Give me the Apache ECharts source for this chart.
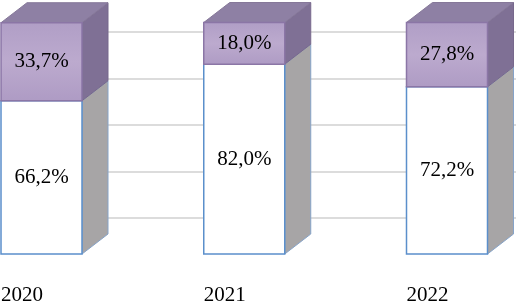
<!DOCTYPE html>
<html><head><meta charset="utf-8">
<script src="https://cdn.jsdelivr.net/npm/echarts@6/dist/echarts.min.js"></script>
<style>html,body{margin:0;padding:0;background:#fff}#c{width:516px;height:301px}</style>
</head><body><div id="c"></div>
<script>
const categories = ['2020', '2021', '2022'];
const lowerShare = [66.2, 82.0, 72.2];
const upperShare = [33.7, 18.0, 27.8];
const gridLevels = [0, 4];

const fmt = v => v.toFixed(1).replace('.', ',') + '%';
const DX = 26, DY = -20, HALF = 40.5;
const FONT = '21px "Liberation Serif", "Times New Roman", serif';

const lowerData = categories.map((c, i) => [i, 0, lowerShare[i]]);
const upperData = categories.map((c, i) => [i, lowerShare[i], lowerShare[i] + upperShare[i]]);

function makeRender(kind, values) {
  return function (params, api) {
    const i = api.value(0), lo = api.value(1), hi = api.value(2);
    const pLo = api.coord([i, lo]);
    const pHi = api.coord([i, hi]);
    const xl = pLo[0] - HALF, xr = pLo[0] + HALF, yb = pLo[1], yt = pHi[1];
    const ch = [];
    if (kind === 'lower') {
      ch.push({ type: 'polygon', shape: { points: [[xr, yb], [xr + DX, yb + DY], [xr + DX, yt + DY], [xr, yt]] },
        style: { fill: '#a7a5a6', stroke: '#86a3c8', lineWidth: 1 } });
      ch.push({ type: 'rect', shape: { x: xl, y: yt, width: xr - xl, height: yb - yt },
        style: { fill: '#ffffff', stroke: '#5b8fcb', lineWidth: 1.5 } });
    } else {
      ch.push({ type: 'polygon', shape: { points: [[xr, yb], [xr + DX, yb + DY], [xr + DX, yt + DY], [xr, yt]] },
        style: { fill: '#7f7095', stroke: '#77688c', lineWidth: 1 } });
      ch.push({ type: 'polygon', shape: { points: [[xl, yt], [xl + DX, yt + DY], [xr + DX, yt + DY], [xr, yt]] },
        style: { fill: '#8e80a4', stroke: '#867899', lineWidth: 1 } });
      ch.push({ type: 'rect', shape: { x: xl, y: yt, width: xr - xl, height: yb - yt },
        style: { fill: new echarts.graphic.LinearGradient(0, 0, 0, 1, [
          { offset: 0, color: '#b09ec6' }, { offset: 0.5, color: '#bcaace' }, { offset: 1, color: '#ae9bc4' }]),
          stroke: '#8b76a6', lineWidth: 1.5 } });
    }
    ch.push({ type: 'text', x: pLo[0], y: (yb + yt) / 2,
      style: { text: fmt(values[params.dataIndex]), fill: '#000', font: FONT, align: 'center', verticalAlign: 'middle' } });
    return { type: 'group', children: ch };
  };
}

const chart = echarts.init(document.getElementById('c'), null, { renderer: 'canvas' });
chart.setOption({
  animation: false,
  backgroundColor: '#ffffff',
  grid: [
    { left: 0, right: 0, top: 22.5, bottom: 47, containLabel: false, outerBoundsMode: 'none' },
    { left: 40, right: 0, top: 32, height: 186, containLabel: false, outerBoundsMode: 'none' }
  ],
  xAxis: [
    { type: 'value', gridIndex: 0, min: -0.20469, max: 2.34032,
      axisLine: { show: false }, axisTick: { show: false }, splitLine: { show: false },
      axisLabel: { customValues: [0, 1, 2], formatter: v => categories[Math.round(v)],
        color: '#000', fontSize: 21, fontFamily: 'Liberation Serif', margin: 31, padding: [0, 39, 0, 0] } },
    { type: 'value', gridIndex: 1, min: 0, max: 1, show: false }
  ],
  yAxis: [
    { type: 'value', gridIndex: 0, min: 0, max: 100, show: false },
    { type: 'value', gridIndex: 1, min: gridLevels[0], max: gridLevels[1], interval: 1,
      axisLine: { show: false }, axisTick: { show: false }, axisLabel: { show: false },
      splitLine: { show: true, lineStyle: { color: '#dcdcdc', width: 2 } } }
  ],
  series: [
    { type: 'custom', xAxisIndex: 0, yAxisIndex: 0, data: lowerData, renderItem: makeRender('lower', lowerShare), clip: false },
    { type: 'custom', xAxisIndex: 0, yAxisIndex: 0, data: upperData, renderItem: makeRender('upper', upperShare), clip: false }
  ]
});
</script></body></html>
